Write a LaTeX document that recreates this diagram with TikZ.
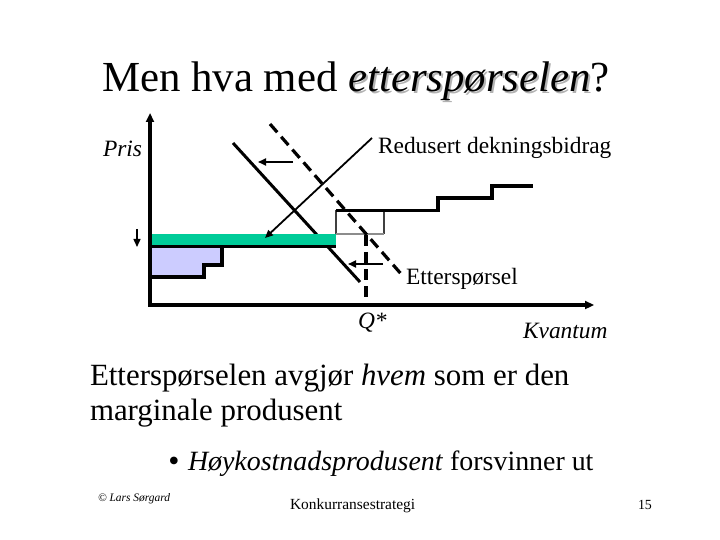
\documentclass[tikz,border=0pt]{standalone}
\usepackage{fontspec}
\setmainfont{Liberation Serif}
\usetikzlibrary{arrows.meta}
\definecolor{margin}{RGB}{0,204,153}
\definecolor{lilla}{RGB}{204,204,255}
\newcommand\skygge[1]{\rlap{\hspace{2bp}\raisebox{-2bp}{\color{black!30}#1}}#1}
\begin{document}
\begin{tikzpicture}
	[
		x=1bp, y=-1bp,
		every node/.style = {
			inner sep=0pt, outer sep=0pt,
			anchor=base west
		},
		akse/.style = {line width=4bp, {Triangle[length=9bp,width=8bp]}-{Triangle[length=9bp,width=8bp]}},
		kurve/.style = {line width=3bp},
		skiftet/.style = {line width=3.2bp, dash pattern=on 11bp off 6bp},
		pil/.style = {line width=1.8bp, -{Triangle[length=8bp,width=7bp]}},
		trapp/.style = {line width=3.2bp},
		etikett/.style = {font=\fontsize{23.5}{26}\selectfont}
	]
	\useasboundingbox (0,0) rectangle (720,540);
	% tittel
	\node (tittel) at (102,92) {\fontsize{43}{48}\selectfont Men hva med \textit{\skygge{etterspørselen}}?};
	% tilbudstrapp
	\fill[lilla] (150,247) -- (222,247) -- (222,265) -- (204,265) -- (204,277) -- (150,277) -- cycle;
	\draw[trapp] (150,277) -- (204,277) -- (204,265) -- (222,265) -- (222,247);
	\draw[kurve] (233,143) -- (360,282);
	\fill[margin] (150,234) rectangle (336,247);
	\draw[trapp] (150,246.5) -- (336,246.5);
	\draw[line width=1.2bp, black!75] (336,234) -- (336,210) (384,210) -- (384,234);
	\draw[line width=2.5bp, black!45] (336,234) -- (384,234);
	\draw[trapp] (336,210.5) -- (438,210.5) -- (438,198) -- (492,198) -- (492,186) -- (533,186);
	% etterspørsel
	\draw[skiftet] (270,124) -- (402,275);
	\coordinate (kryss) at (366,235);
	\coordinate (qstar) at (366,305);
	\draw[skiftet] (kryss) -- (qstar);
	% akser
	\coordinate (origo) at (150,305);
	\coordinate (ytopp) at (150,113);
	\coordinate (xende) at (594,305);
	\draw[akse] (ytopp) -- (origo) -- (xende);
	% piler
	\coordinate (rdstart) at (372,138);
	\coordinate (rdslutt) at (265,238);
	\draw[pil] (rdstart) -- (rdslutt);
	\coordinate (skift1a) at (293,162);
	\coordinate (skift1b) at (258,162);
	\draw[pil] (skift1a) -- (skift1b);
	\coordinate (skift2a) at (383,264);
	\coordinate (skift2b) at (348,264);
	\draw[pil] (skift2a) -- (skift2b);
	\coordinate (ned1) at (137,229);
	\coordinate (ned2) at (137,247);
	\draw[pil, line width=1.4bp] (ned1) -- (ned2);
	% etiketter
	\node[etikett] (pris) at (103,157) {\textit{Pris}};
	\node[etikett] (redusert) at (378,154) {Redusert dekningsbidrag};
	\node[etikett] (etterspor) at (406,285) {Etterspørsel};
	\node[etikett] (q) at (358,328) {\textit{Q*}};
	\node[etikett] (kvantum) at (523,338) {\textit{Kvantum}};
	% tekst
	\node (linje1) at (90,385) {\fontsize{31}{35}\selectfont Etterspørselen avgjør \textit{hvem} som er den};
	\node (linje2) at (90,420) {\fontsize{31}{35}\selectfont marginale produsent};
	\node[anchor=center] (kule) at (174,464) {\fontsize{32}{32}\selectfont\textbullet};
	\node (punkt) at (188,470) {\fontsize{28}{32}\selectfont\textit{Høykostnadsprodusent} forsvinner ut};
	% bunntekst
	\node (forfatter) at (98,501) {\fontsize{11.5}{13}\selectfont\textit{© Lars Sørgard}};
	\node (kurs) at (290,509) {\fontsize{15.5}{18}\selectfont Konkurransestrategi};
	\node (side) at (638,509) {\fontsize{14}{16}\selectfont 15};
\end{tikzpicture}
\end{document}
